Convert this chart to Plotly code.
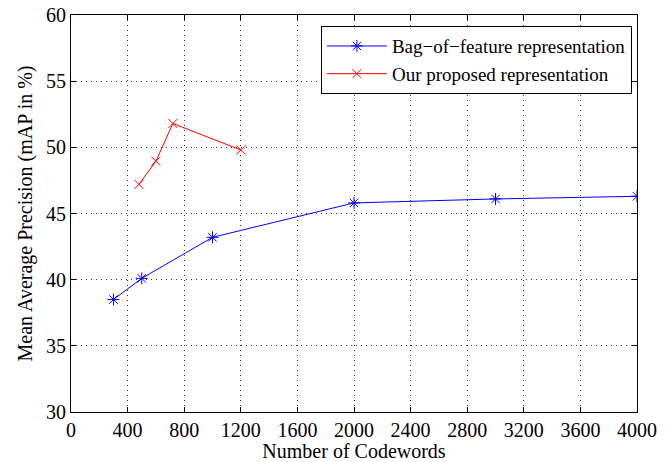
import plotly.graph_objects as go

bof_x = [300, 500, 1000, 2000, 3000, 4000]
bof_y = [38.5, 40.1, 43.2, 45.8, 46.1, 46.3]
our_x = [480, 600, 720, 1200]
our_y = [47.2, 48.95, 51.8, 49.8]

x_ticks = list(range(0, 4001, 400))
y_ticks = list(range(30, 61, 5))

fig = go.Figure()
fig.add_trace(go.Scatter(x=bof_x, y=bof_y, mode="lines+markers",
                         name="Bag\u2212of\u2212feature representation",
                         line=dict(color="#0000ff", width=1),
                         marker=dict(symbol="asterisk-open", size=10, color="#0000ff",
                                     line=dict(color="#0000ff", width=1))))
fig.add_trace(go.Scatter(x=our_x, y=our_y, mode="lines+markers",
                         name="Our proposed representation",
                         line=dict(color="#ff0000", width=1),
                         marker=dict(symbol="x-thin-open", size=9, color="#ff0000",
                                     line=dict(color="#ff0000", width=1))))

axis_common = dict(showline=True, linecolor="black", linewidth=1, mirror="allticks",
                   ticks="inside", ticklen=5, tickcolor="black", automargin=False,
                   showgrid=True, gridcolor="#333333", griddash="1px,4px", gridwidth=1,
                   zeroline=False, tickfont=dict(size=20, color="black"))

fig.update_xaxes(range=[0, 4000], tickvals=x_ticks,
                 title=dict(text="Number of Codewords", font=dict(size=20, color="black"), standoff=0),
                 **axis_common)
fig.update_yaxes(range=[30, 60], tickvals=y_ticks,
                 title=dict(text="Mean Average Precision (mAP in %)", font=dict(size=20, color="black"), standoff=8),
                 **axis_common)

fig.update_layout(width=669, height=462,
                  margin=dict(l=71, r=32, t=15, b=50),
                  paper_bgcolor="white", plot_bgcolor="white",
                  font=dict(family="Liberation Serif", size=20, color="black"),
                  legend=dict(x=0.991, y=0.972, xanchor="right", yanchor="top",
                              bgcolor="white", bordercolor="black", borderwidth=1,
                              font=dict(size=19), tracegroupgap=0, itemwidth=60))

fig.write_html("out.html", config={"displayModeBar": False},
               post_script="document.body.style.margin='0';")
